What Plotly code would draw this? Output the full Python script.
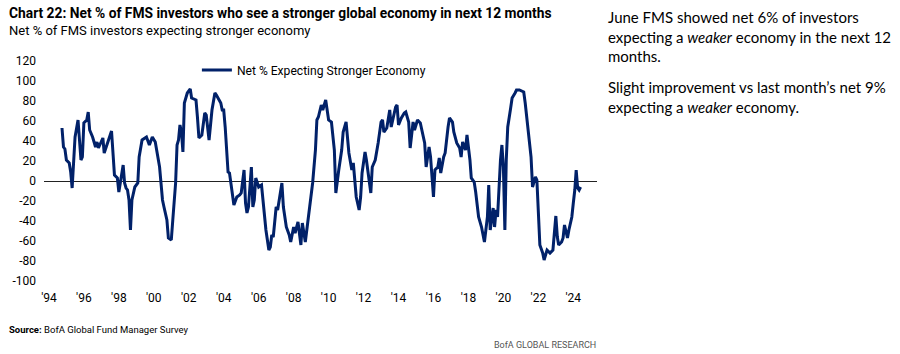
import plotly.graph_objects as go

dates = [
    "1994-10", "1994-11", "1994-12", "1995-01", "1995-03", "1995-04", "1995-05", "1995-07", "1995-09", "1995-10",
    "1995-11", "1995-12", "1996-01", "1996-03", "1996-04", "1996-05", "1996-07", "1996-09", "1996-10", "1996-11",
    "1997-02", "1997-03", "1997-05", "1997-07", "1997-08", "1997-10", "1997-12", "1998-01", "1998-04", "1998-05",
    "1998-06", "1998-07", "1998-08", "1998-09", "1998-10", "1998-12", "1999-02", "1999-03", "1999-05", "1999-08",
    "1999-10", "1999-12", "2000-02", "2000-05", "2000-07", "2000-08", "2000-10", "2000-11", "2001-01", "2001-02",
    "2001-04", "2001-05", "2001-06", "2001-07", "2001-08", "2001-09", "2001-10", "2001-12", "2002-02", "2002-03",
    "2002-06", "2002-07", "2002-08", "2002-10", "2002-12", "2003-01", "2003-03", "2003-05", "2003-07", "2003-08",
    "2003-11", "2003-12", "2004-01", "2004-02", "2004-04", "2004-05", "2004-07", "2004-08", "2004-10", "2004-12",
    "2005-01", "2005-03", "2005-04", "2005-05", "2005-06", "2005-08", "2005-09", "2005-10", "2005-11", "2006-01",
    "2006-03", "2006-04", "2006-06", "2006-08", "2006-09", "2006-10", "2006-11", "2007-01", "2007-02", "2007-05",
    "2007-06", "2007-08", "2007-10", "2007-11", "2008-01", "2008-02", "2008-04", "2008-06", "2008-07", "2008-09",
    "2008-11", "2009-02", "2009-04", "2009-05", "2009-06", "2009-08", "2009-09", "2009-11", "2010-01", "2010-03",
    "2010-05", "2010-06", "2010-08", "2010-10", "2010-11", "2011-01", "2011-03", "2011-05", "2011-06", "2011-08",
    "2011-10", "2011-11", "2011-12", "2012-02", "2012-03", "2012-06", "2012-07", "2012-09", "2012-11", "2013-01",
    "2013-02", "2013-03", "2013-05", "2013-07", "2013-08", "2013-10", "2013-11", "2013-12", "2014-01", "2014-03",
    "2014-05", "2014-06", "2014-08", "2014-09", "2014-11", "2014-12", "2015-02", "2015-04", "2015-07", "2015-08",
    "2015-10", "2015-11", "2016-01", "2016-02", "2016-04", "2016-05", "2016-06", "2016-08", "2016-09", "2016-11",
    "2016-12", "2017-02", "2017-03", "2017-05", "2017-07", "2017-08", "2017-09", "2017-11", "2017-12", "2018-02",
    "2018-03", "2018-05", "2018-06", "2018-08", "2018-10", "2018-12", "2019-02", "2019-03", "2019-04", "2019-06",
    "2019-07", "2019-08", "2019-09", "2019-11", "2019-12", "2020-01", "2020-02", "2020-03", "2020-04", "2020-06",
    "2020-07", "2020-09", "2020-10", "2020-12", "2021-03", "2021-04", "2021-06", "2021-08", "2021-09", "2021-11",
    "2021-12", "2022-01", "2022-02", "2022-04", "2022-05", "2022-07", "2022-09", "2022-11", "2022-12", "2023-01",
    "2023-02", "2023-03", "2023-05", "2023-06", "2023-07", "2023-08", "2023-09", "2023-10", "2023-12", "2024-01",
    "2024-02", "2024-03", "2024-04", "2024-05", "2024-06",
]

net_stronger = [
    53, 34, 32, 21, 18, 9, -7, 44, 61, 44,
    21, 24, 58, 61, 69, 51, 44, 34, 39, 33,
    43, 28, 36, 44, 50, 6, 3, -11, 16, -2,
    -7, -9, -19, -49, -19, -6, -2, 24, 41, 44,
    36, 44, 39, 14, -19, -26, -39, -57, -59, -39,
    -2, 36, 41, 56, 49, 29, 78, 88, 92, 83,
    81, 64, 43, 46, 68, 66, 41, 71, 88, 86,
    78, 71, 71, 54, 9, 8, -12, -24, -16, -14,
    -12, 11, -22, -32, -26, 14, -26, -19, 3, -6,
    -4, -19, -49, -69, -66, -54, -56, -26, -29, -2,
    -26, -46, -54, -61, -46, -52, -41, -64, -42, -61,
    -36, -2, 31, 61, 64, 76, 71, 81, 61, 59,
    31, -12, 11, 31, 49, 59, 28, 11, 18, -16,
    -29, -16, 8, 29, 21, -12, 14, 21, 38, 59,
    61, 49, 53, 71, 54, 69, 74, 76, 56, 63,
    68, 69, 59, 33, 59, 51, 61, 58, 38, 14,
    34, 24, -16, 11, 14, 23, 8, 24, 28, 54,
    63, 59, 49, 38, 33, 24, 39, 31, 46, 21,
    3, -1, -11, -36, -46, -61, -36, -4, -49, -27,
    -46, -29, -36, 21, 36, 14, -49, 21, 54, 73,
    83, 88, 91, 91, 89, 78, 51, 24, -6, 4,
    1, -29, -64, -72, -79, -69, -72, -69, -49, -35,
    -56, -64, -61, -57, -44, -52, -57, -49, -36, -22,
    -9, 11, -7, -9, -6,
]

series_name = "Net % Expecting Stronger Economy"
y_ticks = [120, 100, 80, 60, 40, 20, 0, -20, -40, -60, -80, -100]
y_tick_text = ["120", "100", "80", "60", "40", "20", "0", "-20", "-40", "-60", "-80", "-100"]

title_text = "Chart 22: Net % of FMS investors who see a stronger global economy in next 12 months"
subtitle_text = "Net % of FMS investors expecting stronger economy"
note_1 = "June FMS showed net 6% of investors<br>expecting a <i>weaker</i> economy in the next 12<br>months."
note_2 = "Slight improvement vs last month\u2019s net 9%<br>expecting a <i>weaker</i> economy."
source_text = "<b>Source:</b> BofA Global Fund Manager Survey"
footer_text = "BofA GLOBAL RESEARCH"

NAVY = "#012169"
NARROW = "Roboto, Liberation Sans, sans-serif"

L, R, T, B = 40, 303, 61, 73
W, H = 900, 354
pw, ph = W - L - R, H - T - B


def px(x):
    return (x - L) / pw


def py(y):
    return (H - B - y) / ph


fig = go.Figure()
fig.add_trace(go.Scatter(
    x=[d + "-01" for d in dates], y=net_stronger, mode="lines", name=series_name,
    line=dict(color=NAVY, width=3), showlegend=True,
))

fig.update_layout(
    width=W, height=H, margin=dict(l=L, r=R, t=T, b=B),
    paper_bgcolor="white", plot_bgcolor="white",
    font=dict(family=NARROW, size=12, color="#000000"),
    showlegend=True,
    legend=dict(x=px(194), y=py(70), xanchor="left", yanchor="middle",
                font=dict(family=NARROW, size=12.1, color="#000000"),
                itemwidth=30, bgcolor="rgba(0,0,0,0)", borderwidth=0),
    xaxis=dict(range=["1993-09-20", "2025-05-10"], type="date",
               tick0="1994-01-01", dtick="M24", tickformat="'%y",
               showgrid=False, zeroline=False, showline=False, ticks="",
               ticklabelstandoff=8,
               tickfont=dict(family=NARROW, size=12, color="#000000")),
    yaxis=dict(range=[-100, 120], tickvals=y_ticks, ticktext=y_tick_text, showgrid=False,
               zeroline=True, zerolinecolor="#222222", zerolinewidth=1.2,
               showline=False, ticks="", ticklabelstandoff=7,
               tickfont=dict(family=NARROW, size=12, color="#000000")),
)

ann = [
    dict(text="<b>" + title_text + "</b>", x=px(3), y=py(13), font=dict(family=NARROW, size=13.8, color="#000000")),
    dict(text=subtitle_text, x=px(3), y=py(31), font=dict(family=NARROW, size=13, color="#000000")),
    dict(text=note_1, x=px(606), y=py(36), font=dict(family="Lato", size=15, color="#000000")),
    dict(text=note_2, x=px(606), y=py(96.5), font=dict(family="Lato", size=15, color="#000000")),
    dict(text=source_text, x=px(3), y=py(329), font=dict(family=NARROW, size=9.5, color="#000000")),
]
for a in ann:
    fig.add_annotation(xref="paper", yref="paper", xanchor="left", yanchor="middle",
                       showarrow=False, align="left", **a)
fig.add_annotation(xref="paper", yref="paper", x=px(598), y=py(345), xanchor="right", yanchor="middle",
                   showarrow=False, text=footer_text,
                   font=dict(family=NARROW, size=9, color="#555555"))

fig.write_html("out.html")
